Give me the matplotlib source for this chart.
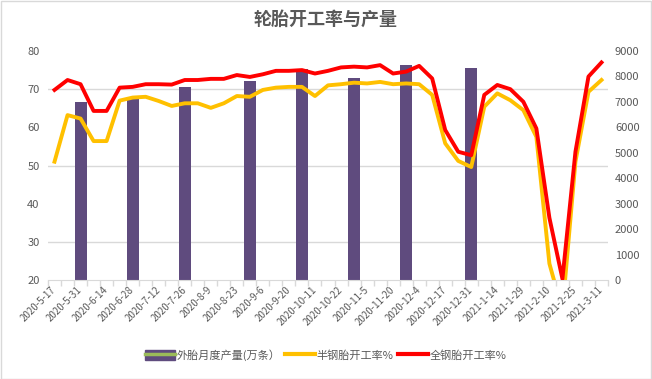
import numpy as np
import matplotlib
matplotlib.use("Agg")
import matplotlib.pyplot as plt
from matplotlib.patches import Rectangle
from matplotlib.lines import Line2D
from matplotlib.legend_handler import HandlerTuple

plt.rcParams['font.family'] = ['Noto Sans CJK SC', 'DejaVu Sans']

# ---------------- data ----------------
tick_labels = ["2020-5-17", "2020-5-31", "2020-6-14", "2020-6-28", "2020-7-12",
               "2020-7-26", "2020-8-9", "2020-8-23", "2020-9-6", "2020-9-20",
               "2020-10-11", "2020-10-22", "2020-11-5", "2020-11-20", "2020-12-4",
               "2020-12-17", "2020-12-31", "2021-1-14", "2021-1-29", "2021-2-10",
               "2021-2-25", "2021-3-11"]
n_points = 43

semi_steel = [51.0, 63.2, 62.3, 56.4, 56.4, 67.0, 67.8, 68.0, 66.9, 65.6,
              66.3, 66.3, 65.1, 66.3, 68.2, 68.0, 69.8, 70.4, 70.6, 70.6,
              68.2, 71.0, 71.3, 71.7, 71.5, 71.9, 71.3, 71.5, 71.3, 68.5,
              55.8, 51.2, 49.6, 65.4, 68.9, 67.1, 64.5, 57.5, 24.3, 12.0,
              51.0, 69.3, 72.4]
all_steel = [69.8, 72.4, 71.3, 64.3, 64.3, 70.4, 70.6, 71.3, 71.3, 71.2,
             72.4, 72.4, 72.7, 72.7, 73.7, 73.2, 73.9, 74.8, 74.8, 75.0,
             74.1, 74.8, 75.7, 75.9, 75.7, 76.3, 74.1, 74.6, 76.1, 72.8,
             59.3, 53.6, 52.7, 68.5, 71.1, 70.0, 66.7, 59.7, 36.3, 20.3,
             53.6, 73.3, 77.0]

bar_index = [2, 6, 10, 15, 19, 23, 27, 32]
monthly_output = [7000, 7200, 7570, 7830, 8300, 7950, 8450, 8350]

legend_labels = ["外胎月度产量(万条）", "半钢胎开工率%", "全钢胎开工率%"]
title = "轮胎开工率与产量"

# ---------------- style ----------------
C_BAR = "#5F4B7E"
C_SEMI = "#FFC000"
C_ALL = "#FF0000"
C_GRID = "#D9D9D9"
C_TEXT = "#595959"

W, H = 652, 379
fig = plt.figure(figsize=(W / 100, H / 100), dpi=100)
fig.patch.set_facecolor("white")
fig.patches.append(Rectangle((0.5 / W, 0.5 / H), 1 - 1.5 / W, 1 - 1.5 / H,
                             transform=fig.transFigure, fill=False,
                             edgecolor="#D9D9D9", lw=1))

x0, x1, ytop, ybot = 48, 608, 51, 280
rect = [x0 / W, (H - ybot) / H, (x1 - x0) / W, (ybot - ytop) / H]
ax2 = fig.add_axes(rect)          # bars (right axis), drawn below
ax = fig.add_axes(rect, sharex=ax2)  # lines (left axis), drawn above
ax.patch.set_visible(False)
ax2.patch.set_visible(False)

x = np.arange(n_points)

# bars on right axis
ax2.bar(bar_index, monthly_output, width=0.92, color=C_BAR, zorder=2)
ax2.set_ylim(0, 9000)
ax2.set_yticks(np.arange(0, 9001, 1000))
ax2.yaxis.tick_right()
ax2.set_yticks(np.arange(0, 9001, 1500), minor=True)
ax2.grid(which="minor", axis="y", color=C_GRID, lw=1, zorder=0)
ax2.tick_params(axis="y", which="both", length=0, labelsize=8, colors=C_TEXT, pad=5)

# lines on left axis
ax.plot(x, semi_steel, color=C_SEMI, lw=2.8, solid_joinstyle="round", zorder=3)
ax.plot(x, all_steel, color=C_ALL, lw=2.8, solid_joinstyle="round", zorder=4)
ax.set_ylim(20, 80)
ax.set_yticks(np.arange(20, 81, 10))
ax.tick_params(axis="y", length=0, labelsize=8, colors=C_TEXT, pad=6)

ax.set_xlim(-0.5, n_points - 0.5)
label_pos = np.arange(0, n_points, 2)
ax.set_xticks(label_pos)
ax.set_xticklabels(tick_labels, rotation=45, ha="right", va="center",
                   rotation_mode="anchor", fontsize=7, color=C_TEXT)
ax.set_xticks(np.arange(-0.5, n_points, 1), minor=True)
ax.tick_params(axis="x", which="major", length=0, pad=6)
ax.tick_params(axis="x", which="minor", length=4, color=C_GRID, width=1)
ax2.tick_params(axis="x", which="both", length=0, labelbottom=False)

for a in (ax, ax2):
    for s in ("top", "left", "right"):
        a.spines[s].set_visible(False)
    a.spines["bottom"].set_visible(False)
ax.spines["bottom"].set_visible(True)
ax.spines["bottom"].set_color(C_GRID)

fig.text(0.5, 1 - 19 / H, title, ha="center", va="center",
         fontsize=13, fontweight="bold", color=C_TEXT)

h_bar = (Rectangle((0, 0), 1, 1, facecolor=C_BAR, edgecolor=C_BAR),
         Line2D([0], [0], color="#9BBB59", lw=2.5))
h_semi = Line2D([0], [0], color=C_SEMI, lw=3)
h_all = Line2D([0], [0], color=C_ALL, lw=3)
fig.legend([h_bar, h_semi, h_all], legend_labels,
           handler_map={tuple: HandlerTuple(ndivide=1)},
           loc="center", bbox_to_anchor=(0.5, 1 - 355 / H), ncol=3,
           frameon=False, fontsize=8, handlelength=2.7, handleheight=1.0,
           handletextpad=0.15, columnspacing=0.4, labelcolor=C_TEXT)

fig.savefig("out.png", dpi=100)
